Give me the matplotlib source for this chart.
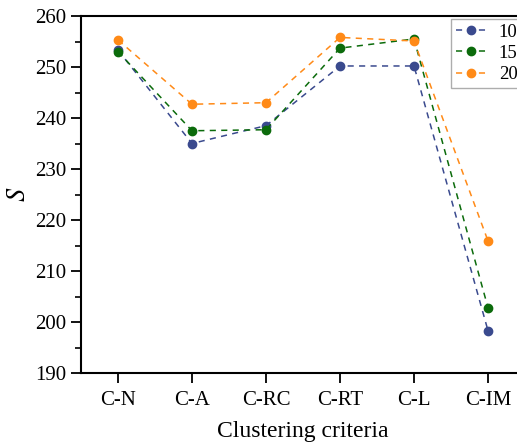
import matplotlib
matplotlib.use('Agg')
import matplotlib.pyplot as plt
from matplotlib.ticker import MultipleLocator

plt.rcParams['font.family'] = ['Liberation Serif', 'DejaVu Serif']
plt.rcParams['mathtext.fontset'] = 'stix'

criteria = ['C-N', 'C-A', 'C-RC', 'C-RT', 'C-L', 'C-IM']
labels = ['10', '15', '20']
s_10 = [253.3, 235.0, 238.5, 250.2, 250.2, 198.3]
s_15 = [253.0, 237.5, 237.7, 253.7, 255.5, 202.8]
s_20 = [255.3, 242.7, 243.0, 255.8, 255.1, 215.9]
colors = ['#3a4a8e', '#0b6b0b', '#ff8a17']

fig = plt.figure(figsize=(5.17, 4.44), dpi=100)
ax = fig.add_axes([81 / 517, 1 - 373 / 444, 444 / 517, 357 / 444])

x = range(len(criteria))
for vals, lab, c in zip([s_10, s_15, s_20], labels, colors):
    ax.plot(x, vals, linestyle=(0, (4, 3.5)), linewidth=1.1, color=c,
            marker='o', markersize=6, label=lab)

ax.set_xlim(-0.5, 5.5)
ax.set_ylim(190, 260)
ax.set_xticks(list(x))
ax.set_xticklabels(criteria)
ax.yaxis.set_major_locator(MultipleLocator(10))
ax.yaxis.set_minor_locator(MultipleLocator(5))
ax.tick_params(axis='both', which='major', direction='out', length=7, width=1.3,
               labelsize=15)
ax.tick_params(axis='x', which='major', pad=6)
ax.tick_params(axis='y', which='minor', direction='out', length=4, width=1.2)
for sp in ax.spines.values():
    sp.set_linewidth(1.5)

ax.set_xlabel('Clustering criteria', fontsize=17, labelpad=8)
ax.set_ylabel('$S$', fontsize=19, labelpad=4)

leg = ax.legend(loc='upper left', bbox_to_anchor=(451 / 517, 1 - 19 / 444),
                bbox_transform=fig.transFigure, fontsize=13.5,
                frameon=True, fancybox=False, edgecolor='#999999',
                handlelength=1.6, handletextpad=0.7, borderaxespad=0.0,
                borderpad=0.25, labelspacing=0.22)
leg.get_frame().set_linewidth(1.0)

plt.savefig('out.png', dpi=100)
plt.close()
